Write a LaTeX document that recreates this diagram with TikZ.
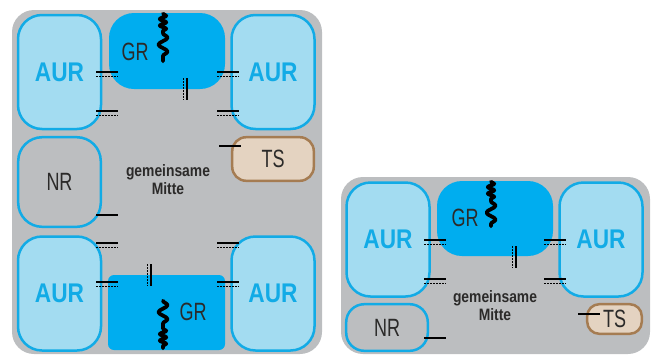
\documentclass[tikz,border=0pt]{standalone}
\usepackage{fontspec}
\setmainfont{Liberation Sans}[FakeStretch=0.72, BoldFeatures={FakeStretch=0.84}]
\usetikzlibrary{calc, decorations.pathmorphing}
\definecolor{grauflaeche}{HTML}{BCBEC0}
\definecolor{hellblau}{HTML}{A3DCF1}
\definecolor{cyanblau}{HTML}{12ABE6}
\definecolor{vollblau}{HTML}{00ADEF}
\definecolor{sandbeige}{HTML}{E4D3C1}
\definecolor{erdbraun}{HTML}{A57C52}
\definecolor{dunkelgrau}{HTML}{2B2A29}
\colorlet{colFlaeche}{grauflaeche}
\colorlet{colAUR}{hellblau}
\colorlet{colRahmen}{cyanblau}
\colorlet{colGR}{vollblau}
\colorlet{colTS}{sandbeige}
\colorlet{colTSRand}{erdbraun}
\colorlet{colText}{dunkelgrau}
\colorlet{colMitte}{dunkelgrau}
\tikzset{
  kastenBasis/.style={
    rectangle, inner sep=0pt, line width=2.5pt, align=center
  },
  kastenAUR/.style={kastenBasis, draw=colRahmen, fill=colAUR,
    rounded corners=24pt, minimum width=83pt, minimum height=114pt,
    font=\fontsize{27}{27}\selectfont\bfseries, text=colRahmen},
  kastenGR/.style={kastenBasis, fill=colGR, rounded corners=25pt,
    minimum width=116pt, minimum height=76pt},
  kastenNR/.style={kastenBasis, draw=colRahmen, fill=colFlaeche,
    font=\fontsize{25}{25}\selectfont, text=colText},
  kastenTS/.style={kastenBasis, draw=colTSRand, fill=colTS,
    font=\fontsize{25}{25}\selectfont, text=colText},
  schriftGR/.style={inner sep=0pt, font=\fontsize{25}{25}\selectfont, text=colText},
  mitteText/.style={inner sep=0pt, align=center,
    font=\fontsize{16.5}{18}\selectfont\bfseries, text=colMitte},
  flaeche/.style={fill=colFlaeche, rounded corners=22pt},
  strichVoll/.style={line width=1.1pt, black},
  strichGestrichelt/.style={line width=1pt, black, dash pattern=on 2pt off 1pt},
  welleEng/.style={line width=3.8pt, black, line cap=round, line join=round,
    decorate, decoration={snake, segment length=6.5pt, amplitude=3.2pt}},
  welleWeit/.style={line width=3.8pt, black, line cap=round, line join=round,
    decorate, decoration={snake, segment length=14pt, amplitude=4.5pt}},
}
% Doppelstrich waagrecht: oben voll, unten gestrichelt
\newcommand{\doppelH}[2]{%
  \draw[strichVoll] (#1,#2) -- ++(22,0);
  \draw[strichGestrichelt] (#1,#2+4.5) -- ++(22,0);}
% Doppelstrich senkrecht: links gestrichelt, rechts voll
\newcommand{\doppelV}[2]{%
  \draw[strichGestrichelt] (#1,#2) -- ++(0,22);
  \draw[strichVoll] (#1+4,#2) -- ++(0,22);}
\newcommand{\einzelH}[2]{\draw[strichVoll] (#1,#2) -- ++(22,0);}

\begin{document}
\begin{tikzpicture}[x=1pt, y=-1pt]
  \useasboundingbox (0,0) rectangle (658,354);

  % linke Anordnung
  \fill[flaeche] (12,10) rectangle (322,354);
  \node[kastenAUR] (aurOL) at (59.5,72) {AUR};
  \node[kastenGR] (grO) at (167,51) {};
  \node[kastenAUR] (aurOR) at (273,72) {AUR};
  \node[kastenNR, rounded corners=24pt, minimum width=82.6pt, minimum height=89.6pt]
    (nr) at (59.5,182) {NR};
  \node[kastenTS, rounded corners=14pt, minimum width=81.6pt, minimum height=43.6pt]
    (ts) at (273,159) {TS};
  \node[mitteText] (mitte) at (168,180) {gemeinsame\\Mitte};
  \node[kastenAUR] (aurUL) at (59.5,293.5) {AUR};
  \node[kastenGR, rounded corners=6pt, minimum width=117pt, minimum height=75pt]
    (grU) at (166.5,312.5) {};
  \node[kastenAUR] (aurUR) at (273,293.5) {AUR};
  \node[schriftGR] (grOtext) at ($(grO.center)+(-32,1)$) {GR};
  \node[schriftGR] (grUtext) at ($(grU.center)+(26.5,-0.5)$) {GR};

  \draw[welleEng] ($(grO.north)+(-4,2)$) -- ++(0,19.5) coordinate (wO);
  \draw[welleWeit] (wO) -- ++(0,28);
  \draw[welleWeit] ($(grU.north)+(-3.5,27)$) -- ++(0,28) coordinate (wU);
  \draw[welleEng] (wU) -- ++(0,19.5);

  \doppelH{96}{72}   \doppelH{96}{111}
  \doppelH{217}{72}  \doppelH{217}{111}
  \doppelH{96}{243}  \doppelH{96}{282}
  \doppelH{217}{243} \doppelH{217}{282}
  \doppelV{183}{78}  \doppelV{147}{264}
  \einzelH{219}{146} \einzelH{96}{215}

  % rechte Anordnung
  \fill[flaeche] (341,177) rectangle (650,354);
  \node[kastenAUR] (aurL2) at (388,239.5) {AUR};
  \node[kastenGR, minimum height=75pt] (gr2) at (495,218.5) {};
  \node[kastenAUR] (aurR2) at (601,239.5) {AUR};
  \node[kastenNR, rounded corners=18pt, minimum width=81.6pt, minimum height=46.6pt]
    (nr2) at (387,327.5) {NR};
  \node[kastenTS, rounded corners=12pt, minimum width=54.6pt, minimum height=29.6pt]
    (ts2) at (614.5,319) {TS};
  \node[mitteText] (mitte2) at (495,306) {gemeinsame\\Mitte};
  \node[schriftGR] (gr2text) at ($(gr2.center)+(-30,-0.5)$) {GR};

  \draw[welleEng] ($(gr2.north)+(-4,2)$) -- ++(0,19.5) coordinate (w2);
  \draw[welleWeit] (w2) -- ++(0,25);

  \doppelH{424}{240} \doppelH{424}{279}
  \doppelH{544}{240} \doppelH{544}{279}
  \doppelV{512}{246}
  \einzelH{578}{314} \einzelH{424}{338}
\end{tikzpicture}
\end{document}
